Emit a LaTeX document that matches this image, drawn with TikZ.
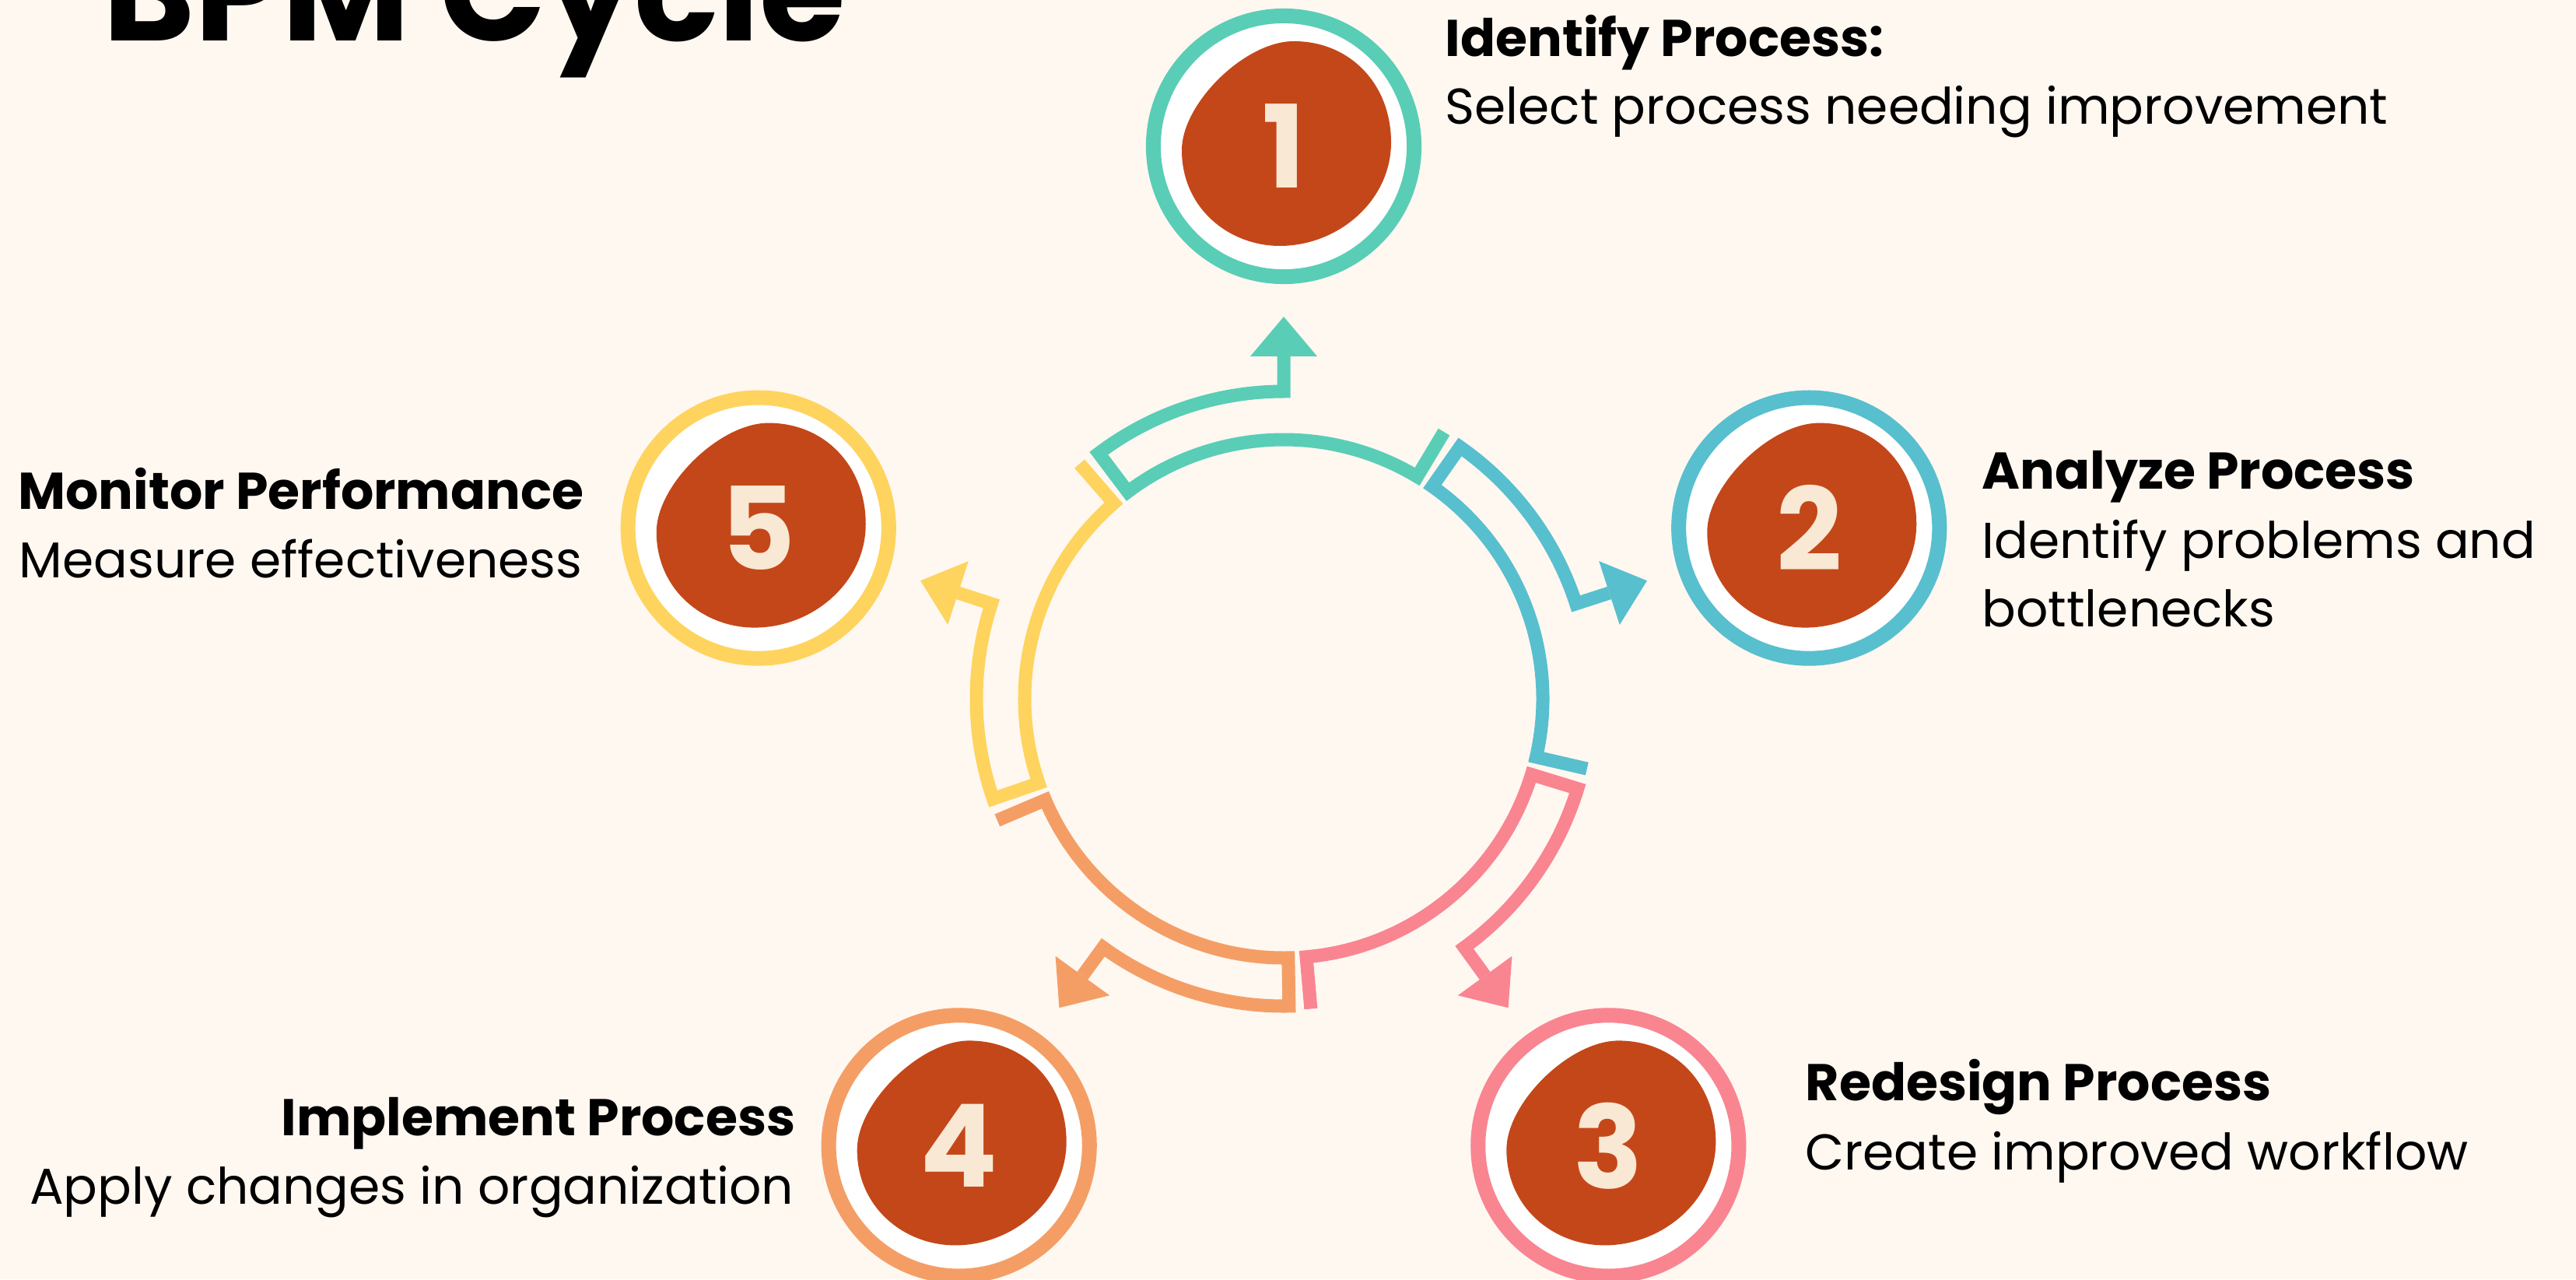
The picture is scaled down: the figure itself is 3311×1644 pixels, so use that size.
\documentclass[tikz,border=0pt]{standalone}
\usepackage{fontspec}
\setmainfont{Poppins}

\definecolor{bgcream}{HTML}{FFF8F1}
\definecolor{cteal}{HTML}{5ACDB6}
\definecolor{cblue}{HTML}{58BFCE}
\definecolor{cpink}{HTML}{F98591}
\definecolor{corange}{HTML}{F49E66}
\definecolor{cyellow}{HTML}{FED45F}
\definecolor{blobred}{HTML}{C44719}
\definecolor{digitcream}{HTML}{F8E8D4}

\tikzset{
  blob/.pic={
    \fill[blobred] (138,5) .. controls (138,80) and (85,135) .. (13,135)
      .. controls (-50,135) and (-131,55) .. (-131,-5)
      .. controls (-131,-80) and (-70,-128) .. (-5,-128)
      .. controls (70,-128) and (138,-70) .. (138,5) -- cycle;
  }
}

\begin{document}
\begin{tikzpicture}[x=0.01cm,y=0.01cm,
  band/.style={line width=0.17cm, line join=miter},
  badge/.style={circle, fill=white, line width=0.19cm, minimum size=3.35cm, inner sep=0pt},
  digit/.style={text=digitcream, font=\fontsize{42pt}{42pt}\selectfont\bfseries, inner sep=0pt},
  head/.style={font=\fontsize{18.9pt}{22pt}\selectfont\bfseries, inner sep=0pt},
  desc/.style={font=\fontsize{18.4pt}{22pt}\selectfont, inner sep=0pt},
  title/.style={font=\fontsize{51pt}{60pt}\selectfont\bfseries, inner sep=0pt}]
\useasboundingbox (0,0) rectangle (3311,1644);
\fill[bgcream] (0,0) rectangle (3311,1644);

% ring of arrows
\foreach \col [count=\i from 0] in {cteal,cblue,cpink,corange,cyellow}{
  \begin{scope}[shift={(1650,746)}, rotate=-72*\i]
    \draw[band, draw=\col] (59:400) -- (59:333) arc[start angle=59, end angle=127, radius=333]
      -- (127:395) arc[start angle=127, end angle=90, radius=395] -- (90:440);
    \fill[\col] (-43,440) -- (0,491) -- (43,440) -- cycle;
  \end{scope}
}

% numbered badges
\begin{scope}[shift={(1650,746)}]
\foreach \col/\num [count=\i from 0] in {cteal/1,cblue/2,cpink/3,corange/4,cyellow/5}{
  \node[badge, draw=\col] (b\num) at ({90-72*\i}:710) {};
  \pic at (b\num) {blob};
  \node[digit] (n\num) at (b\num) {\num};
}
\end{scope}

\node[title, anchor=base west] (title) at (132,1591) {BPM Cycle};

\node[head, anchor=base west] (t1) at (1857,1571) {Identify Process:};
\node[desc, anchor=base west] (d1) at (1857,1484) {Select process needing improvement};
\node[head, anchor=base west] (t2) at (2547,1015) {Analyze Process};
\node[desc, anchor=base west] (d2a) at (2547,927) {Identify problems and};
\node[desc, anchor=base west] (d2b) at (2547,839) {bottlenecks};
\node[head, anchor=base west] (t3) at (2320,230) {Redesign Process};
\node[desc, anchor=base west] (d3) at (2320,141) {Create improved workflow};
\node[head, anchor=base east] (t4) at (1023,185) {Implement Process};
\node[desc, anchor=base east] (d4) at (1021,97) {Apply changes in organization};
\node[head, anchor=base east] (t5) at (751,990) {Monitor Performance};
\node[desc, anchor=base east] (d5) at (749,902) {Measure effectiveness};
\end{tikzpicture}
\end{document}
